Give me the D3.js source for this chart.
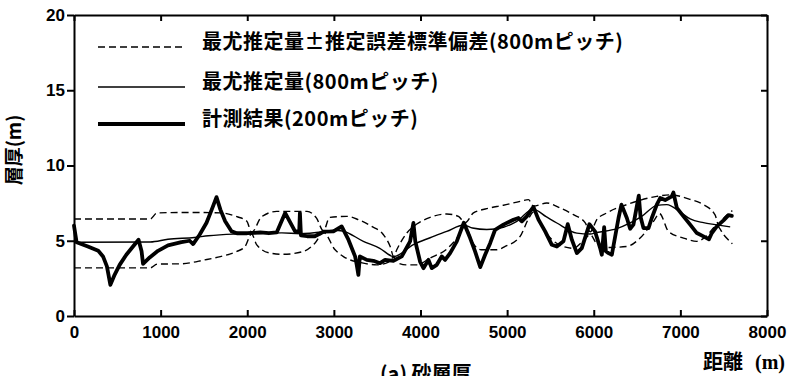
<!DOCTYPE html>
<html>
<head>
<meta charset="utf-8">
<script src="https://cdn.jsdelivr.net/npm/d3@7"></script>
<style>
  html, body { margin: 0; padding: 0; background: #fff; }
  svg { display: block; }
</style>
</head>
<body>
<svg id="chart" width="792" height="376"></svg>
<script>
// Axis ticks
const xTicks = [0, 1000, 2000, 3000, 4000, 5000, 6000, 7000, 8000];
const yTicks = [0, 5, 10, 15, 20];

// Legend entries (top to bottom)
const legendLabels = [
  "最尤推定量±推定誤差標準偏差(800mピッチ)",
  "最尤推定量(800mピッチ)",
  "計測結果(200mピッチ)"
];

// Measured sand-layer thickness [distance m, thickness m]
const measured = [
  [0, 6.0], [30, 4.9], [160, 4.62], [280, 4.33], [335, 3.96], [380, 3.3], [420, 2.07],
  [470, 2.75], [527, 3.4], [604, 4.07], [681, 4.62], [745, 5.07], [780, 4.3], [797, 3.47],
  [874, 3.89], [970, 4.33], [1085, 4.69], [1240, 4.91], [1335, 5.0], [1375, 4.78], [1450, 5.4],
  [1530, 6.2], [1590, 7.07], [1645, 7.9], [1690, 7.07], [1745, 6.29], [1820, 5.62], [1880, 5.5],
  [2000, 5.5], [2150, 5.55], [2250, 5.5], [2340, 5.55], [2437, 6.85], [2552, 5.62], [2600, 5.62],
  [2608, 6.85], [2620, 5.35], [2690, 5.3], [2780, 5.3], [2880, 5.6], [2995, 5.62], [3090, 5.95],
  [3168, 5.07], [3245, 3.96], [3264, 3.4], [3283, 2.73], [3300, 3.96], [3380, 3.73], [3456, 3.67],
  [3533, 3.51], [3591, 3.73], [3687, 3.67], [3784, 3.96], [3880, 4.96], [3918, 6.18], [3940, 4.96],
  [3995, 3.62], [4034, 3.18], [4092, 3.73], [4130, 3.18], [4188, 3.4], [4245, 3.96], [4284, 3.73],
  [4342, 4.18], [4419, 4.96], [4500, 6.2], [4573, 5.18], [4630, 4.29], [4690, 3.25], [4746, 4.07],
  [4804, 4.84], [4861, 5.73], [4957, 6.07], [5073, 6.4], [5131, 6.51], [5170, 6.29], [5227, 6.62],
  [5266, 6.95], [5304, 7.25], [5362, 6.4], [5439, 5.62], [5516, 4.73], [5574, 4.62], [5650, 4.96],
  [5700, 6.1], [5747, 5.07], [5805, 4.18], [5862, 4.51], [5950, 6.1], [6016, 5.6], [6074, 4.51],
  [6093, 4.07], [6120, 5.9], [6140, 4.3], [6170, 4.18], [6209, 4.07], [6286, 6.51], [6320, 7.4],
  [6382, 6.51], [6420, 5.8], [6458, 6.07], [6520, 8.0], [6540, 6.6], [6574, 5.84], [6632, 5.84],
  [6670, 6.51], [6728, 7.4], [6767, 7.84], [6824, 7.7], [6901, 7.95], [6920, 8.2], [6959, 7.18],
  [7036, 6.62], [7113, 6.07], [7190, 5.51], [7267, 5.29], [7330, 5.1], [7363, 5.51], [7421, 5.95],
  [7498, 6.35], [7556, 6.7], [7594, 6.65]
];

// Maximum-likelihood estimate
const estimate = [
  [0, 4.9], [880, 4.92], [1085, 5.1], [1390, 5.22], [1550, 5.33], [1840, 5.44], [2070, 5.47],
  [2400, 5.52], [2610, 5.47], [2880, 5.6], [3000, 5.7], [3100, 5.65], [3340, 4.96], [3530, 4.5],
  [3690, 3.95], [3918, 4.75], [4111, 5.2], [4303, 5.62], [4500, 6.05], [4600, 5.85], [4765, 5.75],
  [4957, 5.9], [5112, 6.29], [5300, 7.1], [5450, 6.6], [5574, 6.18], [5805, 5.51], [5958, 5.45],
  [6035, 5.55], [6266, 5.8], [6420, 6.18], [6550, 6.6], [6728, 7.35], [6843, 7.4], [7000, 6.9],
  [7113, 6.45], [7267, 6.2], [7402, 6.07], [7575, 5.92]
];

// Estimate + standard error
const upperBound = [
  [0, 6.45], [880, 6.45], [960, 6.85], [1300, 6.88], [1700, 6.85], [1880, 6.6], [1995, 6.3],
  [2050, 5.55], [2167, 6.6], [2340, 6.95], [2690, 6.95], [2800, 6.5], [2880, 5.65], [2950, 6.55],
  [3150, 6.62], [3283, 6.4], [3437, 5.95], [3572, 5.4], [3650, 4.62], [3690, 3.95], [3726, 4.4],
  [3841, 5.51], [3957, 6.11], [4111, 6.55], [4303, 6.78], [4438, 6.62], [4515, 6.2], [4611, 6.85],
  [4765, 7.13], [4957, 7.36], [5150, 7.62], [5246, 7.73], [5304, 7.3], [5458, 7.51], [5612, 7.18],
  [5766, 6.73], [5900, 6.2], [5960, 5.6], [6035, 6.4], [6150, 6.85], [6382, 7.4], [6540, 7.7],
  [6728, 7.95], [6880, 8.05], [7113, 7.75], [7267, 7.4], [7402, 6.7], [7440, 6.05], [7500, 6.5],
  [7600, 7.0]
];

// Estimate - standard error
const lowerBound = [
  [0, 3.2], [880, 3.2], [960, 3.45], [1240, 3.47], [1510, 3.73], [1690, 3.95], [1880, 4.29],
  [1975, 4.62], [2050, 5.45], [2110, 4.73], [2263, 4.18], [2417, 4.1], [2648, 4.29], [2783, 4.85],
  [2880, 5.55], [3014, 4.4], [3110, 3.95], [3341, 3.51], [3495, 3.4], [3630, 3.58], [3690, 3.9],
  [3750, 3.5], [3840, 3.4], [3960, 3.4], [4111, 3.85], [4303, 4.45], [4438, 5.3], [4515, 6.0],
  [4600, 4.9], [4700, 4.4], [4881, 4.4], [4977, 4.62], [5150, 5.29], [5250, 6.5], [5304, 6.9],
  [5450, 5.5], [5612, 4.7], [5766, 4.5], [5880, 5.0], [5960, 5.4], [6035, 4.8], [6150, 4.55],
  [6382, 4.62], [6535, 5.18], [6690, 6.29], [6760, 6.8], [6862, 5.62], [7036, 5.18], [7190, 4.96],
  [7300, 5.3], [7420, 6.0], [7500, 5.4], [7600, 4.8]
];

const svg = d3.select("#chart");
const x = d3.scaleLinear().domain([0, 8000]).range([74, 767]);
const y = d3.scaleLinear().domain([0, 20]).range([316, 15]);

const numFont = "'Liberation Sans', Arial, Helvetica, sans-serif";
const cjkFont = "'Noto Sans CJK JP', 'Noto Sans CJK SC', sans-serif";

const line = d3.line().x(d => x(d[0])).y(d => y(d[1]));
const smooth = d3.line().x(d => x(d[0])).y(d => y(d[1])).curve(d3.curveMonotoneX);

// Data series
const plot = svg.append("g");
[upperBound, lowerBound].forEach(s => {
  plot.append("path").datum(s)
    .attr("d", smooth).attr("fill", "none")
    .attr("stroke", "#000").attr("stroke-width", 1.4)
    .attr("stroke-dasharray", "7,4");
});
plot.append("path").datum(estimate)
  .attr("d", smooth).attr("fill", "none")
  .attr("stroke", "#000").attr("stroke-width", 1.4);
plot.append("path").datum(measured)
  .attr("d", line).attr("fill", "none")
  .attr("stroke", "#000").attr("stroke-width", 3.8)
  .attr("stroke-linejoin", "round").attr("stroke-linecap", "round");

// Axes frame
const styleAxis = g => {
  g.select(".domain").attr("stroke", "#000").attr("stroke-width", 2);
  g.selectAll(".tick line").attr("stroke", "#000").attr("stroke-width", 2);
  g.selectAll(".tick text")
    .attr("fill", "#000")
    .style("font-family", numFont)
    .style("font-size", "17px")
    .style("font-weight", "bold");
};

svg.append("g").attr("transform", `translate(0,${y(0)})`)
  .call(d3.axisBottom(x).tickValues(xTicks).tickFormat(d3.format("d"))
    .tickSize(-6).tickSizeOuter(0).tickPadding(10))
  .call(styleAxis);
svg.append("g").attr("transform", `translate(0,${y(20)})`)
  .call(d3.axisTop(x).tickValues(xTicks).tickSize(-6).tickSizeOuter(0).tickFormat(""))
  .call(styleAxis);
svg.append("g").attr("transform", `translate(${x(0)},0)`)
  .call(d3.axisLeft(y).tickValues(yTicks).tickFormat(d3.format("d"))
    .tickSize(7).tickSizeOuter(0).tickPadding(2))
  .call(styleAxis);
svg.append("g").attr("transform", `translate(${x(8000)},0)`)
  .call(d3.axisRight(y).tickValues(yTicks).tickSize(-6).tickSizeOuter(0).tickFormat(""))
  .call(styleAxis);

// Legend
const legend = svg.append("g");
const legendRows = [
  { yPos: 47, width: 1.4, dash: "7,4" },
  { yPos: 87, width: 1.4, dash: null },
  { yPos: 124, width: 4, dash: null }
];
legendRows.forEach((r, i) => {
  legend.append("line")
    .attr("x1", 98).attr("x2", 185).attr("y1", r.yPos).attr("y2", r.yPos)
    .attr("stroke", "#000").attr("stroke-width", r.width)
    .attr("stroke-dasharray", r.dash);
  legend.append("text")
    .attr("x", 202).attr("y", r.yPos - 3)
    .attr("dominant-baseline", "middle")
    .style("font-family", cjkFont).style("font-size", "20px").style("font-weight", "bold")
    .style("letter-spacing", "0.5px")
    .text(legendLabels[i]);
});

// Axis titles
svg.append("text")
  .attr("transform", "translate(16,150) rotate(-90)")
  .attr("text-anchor", "middle").attr("dominant-baseline", "middle")
  .style("font-family", cjkFont).style("font-size", "19px").style("font-weight", "bold")
  .text("層厚(m)");

const xTitle = svg.append("text")
  .attr("x", 703).attr("y", 369)
  .style("font-family", cjkFont).style("font-size", "20px").style("font-weight", "bold");
xTitle.append("tspan").text("距離");
xTitle.append("tspan").attr("x", 755)
  .style("font-family", "'Liberation Serif', 'DejaVu Serif', serif").text("(m)");

// Caption (runs past the bottom edge)
svg.append("text")
  .attr("x", 380).attr("y", 381)
  .style("font-family", cjkFont).style("font-size", "20px").style("font-weight", "bold")
  .text("(a) 砂層厚");
</script>
</body>
</html>
